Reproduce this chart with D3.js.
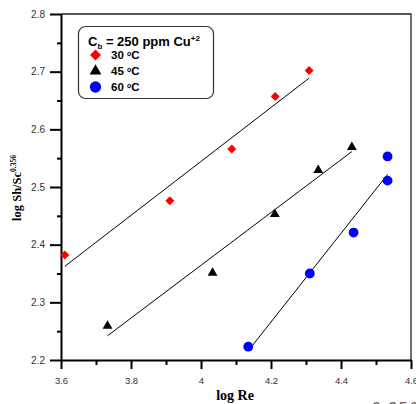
<!DOCTYPE html>
<html><head><meta charset="utf-8">
<script src="https://cdn.jsdelivr.net/npm/d3@7"></script>
<style>
html,body{margin:0;padding:0;background:#fff;}
svg{display:block;}
</style></head>
<body>
<script>
// ---- data ----
const seriesNames = ["30 \u00B0C", "45 \u00B0C", "60 \u00B0C"];
const logRe30 = [3.611, 3.911, 4.088, 4.212, 4.309];
const logSh30 = [2.382, 2.476, 2.566, 2.657, 2.702];
const logRe45 = [3.733, 4.033, 4.211, 4.335, 4.431];
const logSh45 = [2.259, 2.351, 2.453, 2.529, 2.569];
const logRe60 = [4.135, 4.311, 4.436, 4.533, 4.533];
const logSh60 = [2.223, 2.350, 2.421, 2.511, 2.553];
const xTicks = [3.6, 3.8, 4.0, 4.2, 4.4, 4.6];
const xMinorTicks = [3.7, 3.9, 4.1, 4.3, 4.5];
const yTicks = [2.2, 2.3, 2.4, 2.5, 2.6, 2.7, 2.8];
const yMinorTicks = [2.25, 2.35, 2.45, 2.55, 2.65, 2.75];

const W = 416, H = 404;
const svg = d3.select("body").append("svg").attr("width", W).attr("height", H);

const x = d3.scaleLinear().domain([3.6, 4.6]).range([61, 411]);
const y = d3.scaleLinear().domain([2.2, 2.8]).range([360, 14]);

const fmt = d => String(+d.toFixed(2));

// frame (top & right)
svg.append("path")
  .attr("d", d3.line()([[x(3.6), y(2.8)], [x(4.6), y(2.8)], [x(4.6), y(2.2)]]))
  .attr("fill", "none").attr("stroke", "#222").attr("stroke-width", 1.3);

// minor ticks
const yMinor = svg.append("g").attr("transform", `translate(${x(3.6)},0)`)
  .call(d3.axisLeft(y).tickValues(yMinorTicks).tickSize(4).tickFormat(""));
const xMinor = svg.append("g").attr("transform", `translate(0,${y(2.2)})`)
  .call(d3.axisBottom(x).tickValues(xMinorTicks).tickSize(5).tickFormat(""));
[yMinor, xMinor].forEach(g => { g.select(".domain").remove(); g.selectAll("line").attr("stroke", "#000").attr("stroke-width", 2); });

// major axes
const yAx = svg.append("g").attr("transform", `translate(${x(3.6)},0)`)
  .call(d3.axisLeft(y).tickValues(yTicks).tickSize(11).tickPadding(5).tickSizeOuter(0).tickFormat(fmt));
const xAx = svg.append("g").attr("transform", `translate(0,${y(2.2)})`)
  .call(d3.axisBottom(x).tickValues(xTicks).tickSize(9).tickPadding(8).tickSizeOuter(0).tickFormat(fmt));
[yAx, xAx].forEach(g => {
  g.select(".domain").attr("stroke", "#000").attr("stroke-width", 2);
  g.selectAll(".tick line").attr("stroke", "#000").attr("stroke-width", 2);
  g.selectAll(".tick text").attr("fill", "#333").style("font-family", "Liberation Sans, Arial, sans-serif").style("font-size", "10px");
});
xAx.selectAll(".tick text").style("font-size", "9.5px");

// regression fit lines
function fit(xs, ys) {
  const n = xs.length, mx = d3.mean(xs), my = d3.mean(ys);
  let sxy = 0, sxx = 0;
  for (let i = 0; i < n; i++) { sxy += (xs[i] - mx) * (ys[i] - my); sxx += (xs[i] - mx) ** 2; }
  const b = sxy / sxx, a = my - b * mx;
  const x0 = d3.min(xs), x1 = d3.max(xs);
  return [[x0, a + b * x0], [x1, a + b * x1]];
}
const line = d3.line().x(d => x(d[0])).y(d => y(d[1]));
[[logRe30, logSh30], [logRe45, logSh45], [logRe60, logSh60]].forEach(([xs, ys]) => {
  svg.append("path").attr("d", line(fit(xs, ys)))
    .attr("fill", "none").attr("stroke", "#000").attr("stroke-width", 1);
});

// markers
const diamond = d3.symbol().type(d3.symbolDiamond2 || d3.symbolSquare2);
function drawPts(xs, ys, type, size, color, rot) {
  svg.append("g").selectAll("path").data(xs.map((v, i) => [v, ys[i]])).join("path")
    .attr("transform", d => `translate(${x(d[0])},${y(d[1])})${rot ? " rotate(45)" : ""}`)
    .attr("d", d3.symbol().type(type).size(size)())
    .attr("fill", color);
}
drawPts(logRe30, logSh30, d3.symbolSquare, 40, "#ff0000", true);
drawPts(logRe45, logSh45, d3.symbolTriangle, 42, "#000000", false);
drawPts(logRe60, logSh60, d3.symbolCircle, 75, "#0000ff", false);

// legend
const lg = svg.append("g");
lg.append("rect").attr("x", 78.5).attr("y", 26.5).attr("width", 135).attr("height", 72)
  .attr("rx", 7).attr("fill", "#fff").attr("stroke", "#333").attr("stroke-width", 1.2);
const t = lg.append("text").attr("x", 88).attr("y", 46)
  .style("font-family", "Liberation Sans, Arial, sans-serif").style("font-weight", "bold").style("font-size", "13px").attr("fill", "#000");
t.append("tspan").text("C");
t.append("tspan").attr("dy", 3).style("font-size", "8px").text("b");
t.append("tspan").attr("dy", -3).text(" = 250 ppm Cu");
t.append("tspan").attr("dy", -5).style("font-size", "8px").text("+2");
const legTypes = [[d3.symbolSquare, 60, "#ff0000", true], [d3.symbolTriangle, 60, "#000", false], [d3.symbolCircle, 100, "#0000ff", false]];
const legY = [55, 71, 87];
seriesNames.forEach((name, i) => {
  const [type, size, color, rot] = legTypes[i];
  lg.append("path").attr("transform", `translate(95.5,${legY[i]})${rot ? " rotate(45)" : ""}`)
    .attr("d", d3.symbol().type(type).size(size)()).attr("fill", color);
  const tx = lg.append("text").attr("x", 111).attr("y", legY[i] + 4)
    .style("font-family", "Liberation Sans, Arial, sans-serif").style("font-weight", "bold").style("font-size", "11.5px");
  const parts = name.split("\u00B0");
  tx.append("tspan").text(parts[0]);
  tx.append("tspan").attr("dy", -3).style("font-size", "7px").text("o");
  tx.append("tspan").attr("dy", 3).text(parts[1]);
});

// axis titles
svg.append("text").attr("x", 235).attr("y", 400).attr("text-anchor", "middle")
  .style("font-family", "Liberation Serif, Times New Roman, serif").style("font-weight", "bold").style("font-size", "14px")
  .text("log Re");
const yt = svg.append("text").attr("transform", "translate(21,188) rotate(-90)").attr("text-anchor", "middle")
  .style("font-family", "Liberation Serif, Times New Roman, serif").style("font-weight", "bold").style("font-size", "12.5px");
yt.append("tspan").text("log Sh/Sc");
yt.append("tspan").attr("dy", -5).style("font-size", "7.5px").text("0.356");

// cropped stray text at bottom right
svg.append("text").attr("x", 372).attr("y", 414)
  .style("font-family", "Liberation Sans, Arial, sans-serif").style("font-size", "16px").attr("fill", "#666")
  .attr("letter-spacing", "1.5px").text("0.356");
</script>
</body></html>
